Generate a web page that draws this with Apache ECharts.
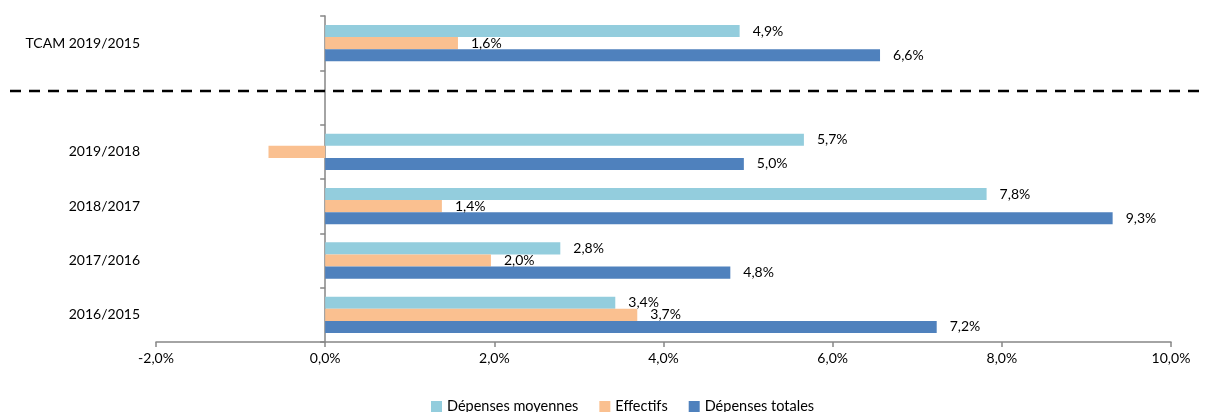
<!DOCTYPE html>
<html>
<head>
<meta charset="utf-8">
<script src="https://cdn.jsdelivr.net/npm/echarts@6/dist/echarts.min.js"></script>
<style>
  html, body { margin: 0; padding: 0; background: #fff; }
  #chart { width: 1206px; height: 412px; }
</style>
</head>
<body>
<div id="chart"></div>
<script>
// bottom to top, the empty one is the gap under the dashed line
const categories = ['2016/2015', '2017/2016', '2018/2017', '2019/2018', '', 'TCAM 2019/2015'];

const depensesMoyennes = [3.43, 2.78, 7.82, 5.66, null, 4.9];
const effectifs = [3.69, 1.96, 1.38, -0.67, null, 1.57];
const depensesTotales = [7.23, 4.79, 9.31, 4.95, null, 6.56];

// no label is printed on the negative bar
const hiddenLabels = { effectifs: [3] };

const xTicks = { min: -2, max: 10, interval: 2 };

const colors = {
    moyennes: '#93CDDD',
    effectifs: '#FAC090',
    totales: '#4F81BD'
};

const font = 'Lato';

const chart = echarts.init(document.getElementById('chart'));

const pct = v => v.toFixed(1).replace('.', ',') + '%';

function barSeries(name, values, color, hidden) {
    return {
        name: name,
        type: 'bar',
        barGap: '0%',
        barCategoryGap: '33%',
        itemStyle: { color: color },
        label: {
            show: true,
            position: 'right',
            distance: 13,
            color: '#000',
            fontFamily: font,
            fontSize: 14,
            formatter: p => p.value == null ? '' : pct(p.value)
        },
        data: values.map((v, i) => (hidden || []).includes(i)
            ? { value: v, label: { show: false } }
            : v)
    };
}

chart.setOption({
    animation: false,
    textStyle: { fontFamily: font },
    grid: { left: 156, right: 35, top: 16, bottom: 70, outerBoundsMode: 'none', containLabel: false },
    legend: {
        bottom: -7,
        left: 426,
        itemWidth: 11,
        itemHeight: 11,
        itemGap: 21,
        icon: 'rect',
        textStyle: { fontFamily: font, fontSize: 14.5, color: '#000' },
        data: ['Dépenses moyennes', 'Effectifs', 'Dépenses totales']
    },
    xAxis: {
        type: 'value',
        min: xTicks.min,
        max: xTicks.max,
        interval: xTicks.interval,
        splitLine: { show: false },
        axisLine: { show: true, lineStyle: { color: '#868686', width: 1.5 } },
        axisTick: { show: true, length: 5, lineStyle: { color: '#868686', width: 1.5 } },
        axisLabel: {
            color: '#000',
            fontSize: 14,
            margin: 9,
            formatter: v => pct(v)
        }
    },
    yAxis: {
        type: 'category',
        data: categories,
        axisLine: { show: true, onZero: true, lineStyle: { color: '#868686', width: 1.5 } },
        axisTick: { show: true, length: 5, lineStyle: { color: '#868686', width: 1.5 } },
        // labels hang off the grid's left edge, not the zero line
        axisLabel: { color: '#000', fontSize: 14, margin: 16 }
    },
    graphic: [{
        type: 'line',
        shape: { x1: 10, y1: 91, x2: 1206, y2: 91 },
        style: { stroke: '#000', lineWidth: 2.5, lineDash: [11, 8] },
        z: 10
    }],
    series: [
        barSeries('Dépenses moyennes', depensesMoyennes, colors.moyennes),
        barSeries('Effectifs', effectifs, colors.effectifs, hiddenLabels.effectifs),
        barSeries('Dépenses totales', depensesTotales, colors.totales)
    ]
});
</script>
</body>
</html>
